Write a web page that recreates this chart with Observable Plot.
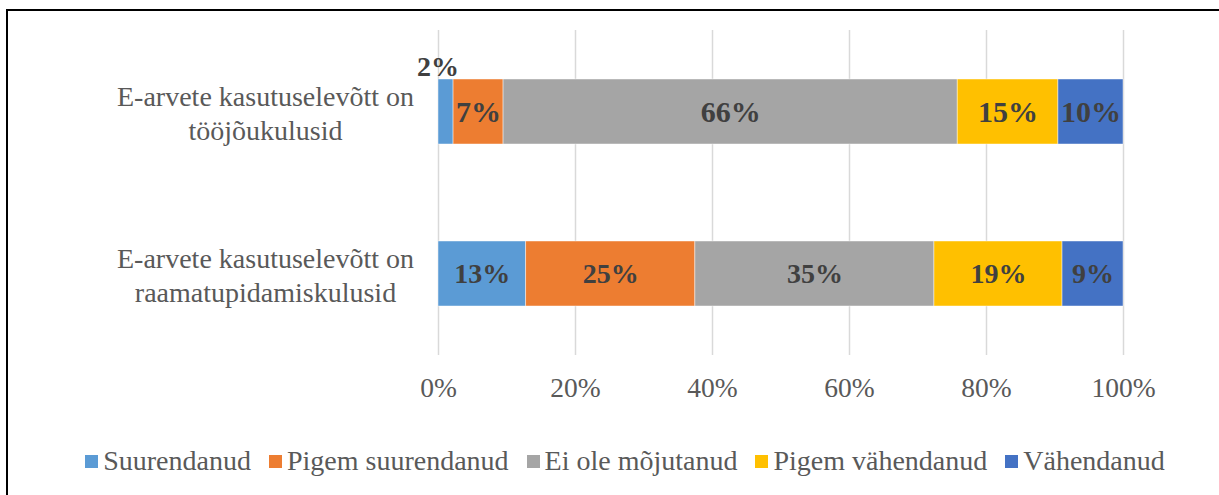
<!DOCTYPE html>
<html>
<head>
<meta charset="utf-8">
<script src="https://cdn.jsdelivr.net/npm/d3@7"></script>
<script src="https://cdn.jsdelivr.net/npm/@observablehq/plot@0.6"></script>
<style>
  html, body { margin: 0; padding: 0; width: 1219px; height: 495px; overflow: hidden; background: #fff; }
  #frame { position: absolute; left: 6px; top: 9px; width: 1300px; height: 600px; border: 2px solid #000; }
  #chart { position: absolute; left: 0; top: 0; }
  #legend { position: absolute; left: 7px; width: 1236px; top: 445px; display: flex; justify-content: center; align-items: center;
            font-family: "Liberation Serif", "Times New Roman", serif; font-size: 28px; color: #595959; white-space: nowrap; }
  .item { display: flex; align-items: center; margin: 0 9px; }
  .sw { width: 13px; height: 13px; margin-right: 5px; }
</style>
</head>
<body>
<div id="frame"></div>
<div id="chart"></div>
<div id="legend"></div>
<script>
const categories = ["E-arvete kasutuselevõtt on\ntööjõukulusid", "E-arvete kasutuselevõtt on\nraamatupidamiskulusid"];
const series = ["Suurendanud", "Pigem suurendanud", "Ei ole mõjutanud", "Pigem vähendanud", "Vähendanud"];
const colors = ["#5b9bd5", "#ed7d31", "#a5a5a5", "#ffc000", "#4472c4"];
const valuesToojou = [2.2, 7.3, 66.3, 14.7, 9.5];
const valuesRaamat = [12.8, 24.7, 34.9, 18.7, 8.9];
const xTicks = [0, 20, 40, 60, 80, 100];

const data = [];
[valuesToojou, valuesRaamat].forEach((vals, ci) => {
  vals.forEach((v, si) => data.push({cat: categories[ci], row: ci, series: series[si], value: v}));
});

const font = '"Liberation Serif", "Times New Roman", serif';
const label = d => Math.round(d.value) + "%";

const chart = Plot.plot({
  width: 1219,
  height: 420,
  marginLeft: 438,
  marginRight: 96,
  marginTop: 30,
  marginBottom: 65,
  style: {fontFamily: font, background: "transparent", overflow: "visible"},
  x: {domain: [0, 100], ticks: xTicks},
  y: {domain: categories, paddingInner: 0.6, paddingOuter: 0.3},
  color: {domain: series, range: colors},
  marks: [
    Plot.ruleX(xTicks, {stroke: "#d9d9d9", strokeWidth: 1.5}),
    Plot.barX(data, Plot.stackX({x: "value", y: "cat", fill: "series", stroke: "#ffffff", strokeWidth: 0.75, strokeOpacity: 0.6})),
    Plot.text(data, Plot.stackX({x: "value", y: "cat", z: "series",
      text: d => (d.row === 0 && d.value >= 4) ? label(d) : null,
      fontSize: 30, fontWeight: "bold", fill: "#404040"})),
    Plot.text(data, Plot.stackX({x: "value", y: "cat", z: "series",
      text: d => d.row === 1 ? label(d) : null,
      fontSize: 28, fontWeight: "bold", fill: "#404040"})),
    Plot.text(data, Plot.stackX({x: "value", y: "cat", z: "series",
      text: d => d.value < 4 ? label(d) : null,
      fontSize: 28, fontWeight: "bold", fill: "#404040", dy: -45, dx: -8})),
    Plot.axisX({ticks: xTicks, tickFormat: d => d + "%", tickSize: 0, tickPadding: 22, fontSize: 27.5, fill: "#595959", label: null}),
    Plot.axisY({tickSize: 0, tickPadding: 173, textAnchor: "middle", fontSize: 28, lineHeight: 1.2, fill: "#595959", label: null})
  ]
});
document.getElementById("chart").appendChild(chart);

const legend = document.getElementById("legend");
series.forEach((s, i) => {
  const item = document.createElement("div");
  item.className = "item";
  const sw = document.createElement("div");
  sw.className = "sw";
  sw.style.background = colors[i];
  const t = document.createElement("span");
  t.textContent = s;
  item.appendChild(sw);
  item.appendChild(t);
  legend.appendChild(item);
});
</script>
</body>
</html>
